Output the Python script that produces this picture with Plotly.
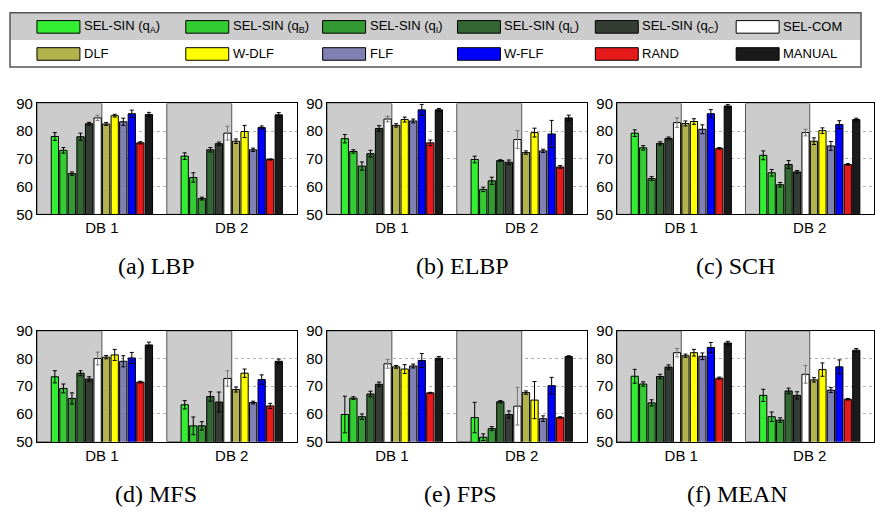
import plotly.graph_objects as go

W, H = 875, 519

methods = ["SEL-SIN (q<sub>A</sub>)", "SEL-SIN (q<sub>B</sub>)", "SEL-SIN (q<sub>I</sub>)",
           "SEL-SIN (q<sub>L</sub>)", "SEL-SIN (q<sub>C</sub>)", "SEL-COM",
           "DLF", "W-DLF", "FLF", "W-FLF", "RAND", "MANUAL"]
colors = ["#33ee33", "#33cc33", "#339933", "#336633", "#333d33", "#ffffff",
          "#b3b34d", "#ffff00", "#8080b3", "#0000ff", "#e61a1a", "#1a1a1a"]
databases = ["DB 1", "DB 2"]
captions = ["(a) LBP", "(b) ELBP", "(c) SCH", "(d) MFS", "(e) FPS", "(f) MEAN"]
y_ticks = [50, 60, 70, 80, 90]

# values[panel][method] = [DB1, DB2]
lbp_mean = [[78.1, 71.0], [73.1, 63.3], [64.7, 55.7], [78.0, 73.3], [82.7, 75.5], [84.8, 79.3],
            [82.6, 76.4], [85.6, 79.9], [83.4, 73.3], [86.3, 81.3], [75.8, 69.8], [86.0, 85.9]]
lbp_err = [[1.4, 1.2], [1.0, 1.7], [0.6, 0.5], [1.3, 0.8], [0.5, 0.6], [1.0, 2.5],
           [0.5, 0.8], [0.5, 2.2], [1.3, 0.6], [1.3, 0.6], [0.4, 0.2], [0.8, 0.8]]
elbp_mean = [[77.3, 69.8], [72.7, 59.0], [67.4, 62.1], [71.9, 69.4], [81.0, 68.8], [84.4, 77.0],
             [82.1, 72.3], [84.2, 79.5], [83.7, 72.9], [87.7, 79.0], [75.8, 67.1], [87.7, 84.8]]
elbp_err = [[1.5, 1.2], [0.6, 0.8], [1.5, 1.3], [1.2, 0.3], [1.0, 0.8], [1.0, 3.2],
            [0.6, 0.6], [0.9, 1.6], [0.7, 0.6], [2.0, 4.9], [1.0, 0.5], [0.5, 1.0]]
sch_mean = [[79.3, 71.3], [74.0, 65.0], [62.9, 60.7], [75.6, 68.0], [77.4, 65.3], [83.1, 79.5],
            [82.8, 76.4], [83.5, 80.2], [80.7, 74.7], [86.3, 82.4], [73.8, 68.0], [89.1, 84.2]]
sch_err = [[1.2, 1.6], [0.8, 1.2], [0.7, 0.8], [0.6, 1.4], [0.5, 0.5], [1.7, 1.2],
           [0.9, 1.2], [1.0, 1.0], [1.6, 1.6], [1.5, 1.4], [0.3, 0.3], [0.6, 0.5]]
mfs_mean = [[73.4, 63.3], [69.2, 55.7], [65.6, 55.7], [74.7, 66.3], [72.6, 64.3], [80.0, 72.8],
            [80.5, 68.8], [81.3, 74.7], [79.0, 64.1], [80.2, 72.4], [71.5, 62.9], [84.9, 79.0]]
mfs_err = [[2.2, 1.5], [1.6, 3.2], [2.0, 1.5], [0.9, 1.7], [0.8, 3.6], [2.3, 2.8],
           [0.6, 0.9], [2.0, 1.5], [2.0, 0.5], [2.0, 1.7], [0.3, 0.9], [1.0, 0.8]]
fps_mean = [[59.8, 58.7], [65.7, 51.6], [59.0, 54.7], [67.2, 64.4], [70.7, 59.8], [78.1, 62.8],
            [77.0, 67.7], [76.2, 65.0], [77.3, 58.3], [79.3, 70.2], [67.6, 58.7], [80.1, 80.7]]
fps_err = [[6.6, 5.5], [0.5, 1.2], [1.0, 0.7], [1.0, 0.4], [0.8, 1.3], [1.6, 6.8],
           [0.5, 0.6], [1.6, 6.7], [0.7, 1.0], [2.5, 3.0], [0.2, 0.3], [0.6, 0.3]]
mean_mean = [[73.6, 66.7], [70.8, 59.0], [64.0, 57.8], [73.5, 68.3], [76.9, 66.7], [82.1, 74.3],
             [81.0, 72.3], [82.1, 76.0], [80.8, 68.6], [84.0, 77.0], [72.9, 65.3], [85.6, 83.0]]
mean_err = [[2.5, 2.2], [0.8, 1.7], [1.1, 0.8], [0.8, 1.0], [0.8, 1.3], [1.5, 3.2],
            [0.6, 0.8], [1.2, 2.4], [1.2, 0.9], [1.8, 2.5], [0.4, 0.3], [0.6, 0.6]]

panels_mean = [lbp_mean, elbp_mean, sch_mean, mfs_mean, fps_mean, mean_mean]
panels_err = [lbp_err, elbp_err, sch_err, mfs_err, fps_err, mean_err]

# layout geometry in pixels
col_x = [(37, 297), (327.3, 587.3), (617.7, 875)]
row_y = [(97.7, 212.3), (332.7, 447.3)]
cap_pos = [(157, 266), (463, 266), (736, 266), (156, 501), (461, 501), (738, 501)]

def px(x):
    return x / W

def py(y):
    return 1 - y / H

fig = go.Figure()
layout = dict(width=W, height=H, margin=dict(l=0, r=0, t=0, b=0),
              paper_bgcolor="white", plot_bgcolor="white",
              barmode="group", bargap=0.21, bargroupgap=0.15, showlegend=False,
              font=dict(family="Liberation Sans", size=14, color="black"))
shapes = []
annotations = []
xpos = [1, 2]

for p in range(6):
    r, c = divmod(p, 3)
    xa = "x" if p == 0 else f"x{p+1}"
    ya = "y" if p == 0 else f"y{p+1}"
    for m in range(12):
        fig.add_trace(go.Bar(
            x=xpos, y=panels_mean[p][m],
            marker=dict(color=colors[m], line=dict(color="black", width=1)),
            error_y=dict(type="data", array=panels_err[p][m],
                         color="#777777" if m == 5 else "black", thickness=1, width=2),
            xaxis=xa, yaxis=ya, name=methods[m], showlegend=False,
        ))
    x0, x1 = col_x[c]
    y0, y1 = row_y[r]
    key = "" if p == 0 else str(p + 1)
    layout["xaxis" + key] = dict(domain=[px(x0), px(x1)], anchor=ya, range=[0.5, 2.5],
                                 tickvals=xpos, ticktext=databases, showgrid=False,
                                 showline=True, linecolor="black", linewidth=1, mirror=True,
                                 ticks="", zeroline=False, tickfont=dict(size=15))
    layout["yaxis" + key] = dict(domain=[py(y1), py(y0)], anchor=xa, range=[50, 90],
                                 tickvals=y_ticks, showgrid=True, gridcolor="#b0b0b0",
                                 griddash="dot", gridwidth=1,
                                 showline=True, linecolor="black", linewidth=1, mirror=True,
                                 ticks="", zeroline=False, tickfont=dict(size=15))
    for g0, g1 in [(0.5, 1.0), (1.5, 2.0)]:
        shapes.append(dict(type="rect", xref=xa, yref=ya, x0=g0, x1=g1, y0=50, y1=90,
                           fillcolor="#cccccc", line=dict(color="#555555", width=1),
                           layer="between"))
    cx, cy = cap_pos[p]
    annotations.append(dict(text=captions[p], x=px(cx), y=py(cy), xref="paper", yref="paper",
                            showarrow=False, xanchor="center", yanchor="middle",
                            font=dict(family="Liberation Serif", size=24, color="black")))

# custom legend box
lg_x0, lg_x1, lg_y0, lg_ymid, lg_y1 = 10, 862, 4, 32, 60
shapes.append(dict(type="rect", xref="paper", yref="paper", x0=px(lg_x0), x1=px(lg_x1),
                   y0=py(lg_ymid), y1=py(lg_y0), fillcolor="#cccccc", line=dict(width=0),
                   layer="above"))
shapes.append(dict(type="rect", xref="paper", yref="paper", x0=px(lg_x0), x1=px(lg_x1),
                   y0=py(lg_y1), y1=py(lg_y0), fillcolor="rgba(0,0,0,0)",
                   line=dict(color="#555555", width=1.5), layer="above"))
sw_x = [37, 186, 323, 458, 596, 737]
row_centers = [18.5, 46.5]
for m in range(12):
    rr, cc = divmod(m, 6)
    sx = sw_x[cc]
    cy = row_centers[rr]
    shapes.append(dict(type="rect", xref="paper", yref="paper", x0=px(sx), x1=px(sx + 43),
                       y0=py(cy + 6.5), y1=py(cy - 6.5), fillcolor=colors[m],
                       line=dict(color="black", width=1), layer="above"))
    annotations.append(dict(text=methods[m], x=px(sx + 45), y=py(cy), xref="paper", yref="paper",
                            showarrow=False, xanchor="left", yanchor="middle",
                            font=dict(family="Liberation Sans", size=13, color="black")))

layout["shapes"] = shapes
layout["annotations"] = annotations
fig.update_layout(**layout)
fig.write_html("out.html", config={"displayModeBar": False},
               post_script="document.body.style.margin='0';document.body.style.padding='0';"
                           "document.documentElement.style.overflow='hidden';")
